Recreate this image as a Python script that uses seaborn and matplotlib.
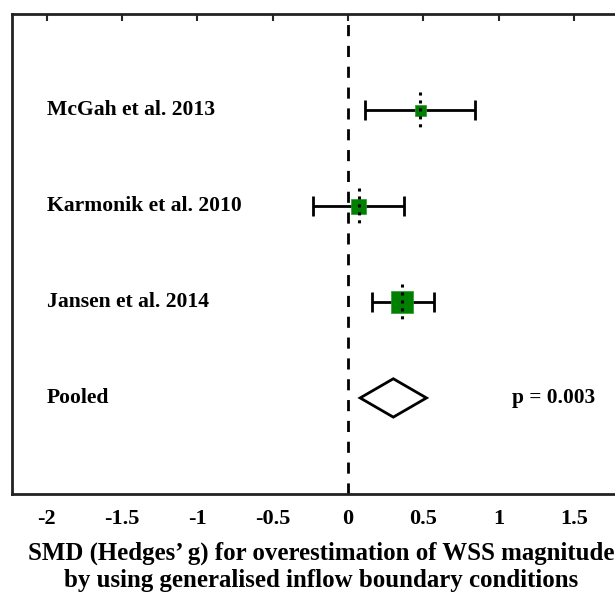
import numpy as np
import pandas as pd
import seaborn as sns
import matplotlib.pyplot as plt

# study estimates (SMD, Hedges' g)
studies = ["McGah et al. 2013", "Karmonik et al. 2010", "Jansen et al. 2014"]
est = [0.48, 0.07, 0.36]
ci_lo = [0.11, -0.23, 0.16]
ci_hi = [0.84, 0.37, 0.57]
weight = [1.0, 1.9, 4.0]

pooled_est = 0.30
pooled_lo = 0.08
pooled_hi = 0.52
p_text = "p = 0.003"

xticks = [-2, -1.5, -1, -0.5, 0, 0.5, 1, 1.5]
xticklabels = ["-2", "-1.5", "-1", "-0.5", "0", "0.5", "1", "1.5"]

sns.set_style("white")
plt.rcParams['font.family'] = ['Liberation Serif', 'DejaVu Serif']
plt.rcParams['font.weight'] = 'bold'

df = pd.DataFrame({"study": studies, "est": est, "lo": ci_lo, "hi": ci_hi,
                   "w": weight, "row": np.arange(1, len(studies) + 1)})

fig = plt.figure(figsize=(6.15, 5.95), dpi=100)
# axes runs past the right edge, like the cropped original
ax_w = 1.093
ax = fig.add_axes([0.0195, 0.170, ax_w, 0.806])

# zero line
ax.axvline(0, color='black', lw=2, ls=(0, (4, 3.5)), zorder=1)

# confidence intervals
ax.errorbar(df["est"], df["row"],
            xerr=[df["est"] - df["lo"], df["hi"] - df["est"]],
            fmt='none', ecolor='black', elinewidth=2, capsize=7, capthick=2, zorder=2)

# weighted squares
sns.scatterplot(data=df, x="est", y="row", size="w", sizes=(63, 250),
                marker='s', color='green', edgecolor='#2a9a2a', linewidth=0.5,
                legend=False, ax=ax, zorder=3)

# dotted lines through estimates
ax.vlines(df["est"], df["row"] - 0.19, df["row"] + 0.19, colors='black',
          linestyles=(0, (1, 1.6)), lw=2.2, zorder=4)

# pooled diamond
prow = len(studies) + 1
ax.fill([pooled_lo, pooled_est, pooled_hi, pooled_est],
        [prow, prow - 0.2, prow, prow + 0.2],
        facecolor='white', edgecolor='black', lw=2, zorder=3)

# row labels
for i, name in enumerate(studies + ["Pooled"]):
    ax.text(-2.0, i + 1, name, ha='left', va='center', fontsize=15.6,
            fontweight='bold', color='black')
ax.text(1.09, prow, p_text, ha='left', va='center', fontsize=15.4,
        fontweight='bold', color='black')

ax.set_xlim(-2.23, 2.23)
ax.set_ylim(5, 0)
ax.set_yticks([])
ax.set_xticks(xticks)
ax.set_xticklabels(xticklabels, fontsize=16, fontweight='bold', color='black')
ax.tick_params(axis='x', direction='in', length=5, width=1.5, top=True, pad=11)
for s in ax.spines.values():
    s.set_linewidth(2)
    s.set_color('#222222')
ax.set_xlabel("SMD (Hedges\u2019 g) for overestimation of WSS magnitude\nby using generalised inflow boundary conditions",
              fontsize=17.9, fontweight='bold', labelpad=9, linespacing=1.22,
              color='black', x=(321 - 12) / (ax_w * 615))
ax.set_ylabel('')

plt.savefig('out.png', dpi=100)
